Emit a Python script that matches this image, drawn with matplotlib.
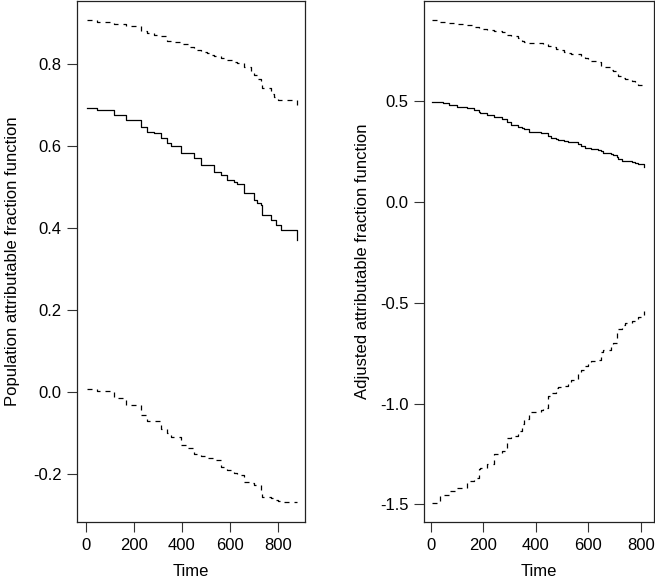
import matplotlib
matplotlib.use("Agg")
import matplotlib.pyplot as plt

plt.rcParams['font.family'] = ['Liberation Sans', 'DejaVu Sans']

# Left panel: population attributable fraction function (step functions)
time_l = [4, 48, 118, 170, 229, 257, 283, 313, 340, 354, 396, 425, 451, 479, 507, 521,
          533, 563, 590, 618, 632, 661, 688, 701, 715, 729, 736, 771, 785, 792, 800,
          813, 826, 882]
paf_est = [0.693, 0.689, 0.675, 0.663, 0.648, 0.635, 0.632, 0.620, 0.607, 0.600, 0.583, 0.583,
           0.570, 0.554, 0.554, 0.554, 0.537, 0.530, 0.517, 0.512, 0.509, 0.485, 0.485,
           0.468, 0.462, 0.456, 0.432, 0.420, 0.420, 0.407, 0.407, 0.395, 0.395, 0.371]
paf_upper = [0.907, 0.903, 0.897, 0.893, 0.880, 0.876, 0.871, 0.868, 0.857, 0.853, 0.849, 0.842,
             0.834, 0.830, 0.826, 0.823, 0.820, 0.815, 0.810, 0.806, 0.804, 0.793, 0.780,
             0.773, 0.765, 0.760, 0.741, 0.728, 0.720, 0.720, 0.712, 0.712, 0.712, 0.688]
paf_lower = [0.007, 0.002, -0.015, -0.032, -0.056, -0.070, -0.070, -0.089, -0.100, -0.109,
             -0.129, -0.135, -0.150, -0.155, -0.160, -0.160, -0.165, -0.182, -0.190,
             -0.197, -0.202, -0.219, -0.222, -0.227, -0.227, -0.240, -0.255, -0.258, -0.263,
             -0.263, -0.265, -0.268, -0.268, -0.268]

# Right panel: adjusted attributable fraction function
time_r = [3, 35, 47, 67, 99, 137, 144, 163, 182, 188, 214, 240, 272, 291, 304, 330, 349,
          355, 374, 381, 419, 426, 445, 458, 477, 483, 509, 522, 535, 560, 573, 586,
          599, 612, 637, 650, 657, 688, 695, 708, 714, 727, 740, 765, 778, 791, 813]
aaf_est = [0.497, 0.493, 0.489, 0.481, 0.472, 0.466, 0.464, 0.455, 0.446, 0.439, 0.430,
           0.419, 0.409, 0.395, 0.381, 0.372, 0.365, 0.360, 0.345, 0.345, 0.343, 0.340,
           0.325, 0.318, 0.310, 0.307, 0.303, 0.299, 0.295, 0.287, 0.278, 0.269, 0.265,
           0.262, 0.257, 0.250, 0.241, 0.236, 0.233, 0.220, 0.211, 0.205, 0.203, 0.200,
           0.194, 0.188, 0.175]
aaf_upper = [0.901, 0.892, 0.890, 0.888, 0.882, 0.876, 0.876, 0.868, 0.858, 0.855, 0.851,
             0.846, 0.840, 0.828, 0.822, 0.815, 0.800, 0.795, 0.790, 0.790, 0.789, 0.782,
             0.772, 0.769, 0.760, 0.755, 0.744, 0.740, 0.735, 0.731, 0.722, 0.712, 0.703,
             0.700, 0.695, 0.670, 0.667, 0.653, 0.650, 0.635, 0.625, 0.612, 0.608, 0.600,
             0.590, 0.578, 0.563]
aaf_lower = [-1.492, -1.459, -1.455, -1.434, -1.417, -1.388, -1.385, -1.368, -1.327, -1.320,
             -1.302, -1.252, -1.236, -1.170, -1.160, -1.137, -1.100, -1.079, -1.050, -1.043,
             -1.033, -1.020, -0.964, -0.950, -0.922, -0.918, -0.914, -0.895, -0.881, -0.850,
             -0.832, -0.815, -0.800, -0.790, -0.782, -0.745, -0.733, -0.716, -0.700, -0.642,
             -0.630, -0.612, -0.600, -0.590, -0.584, -0.570, -0.543]

x_ticks = [0, 200, 400, 600, 800]
yticks_l = [-0.2, 0.0, 0.2, 0.4, 0.6, 0.8]
yticks_r = [-1.5, -1.0, -0.5, 0.0, 0.5]

W, H = 655, 582
fig = plt.figure(figsize=(W / 100, H / 100), dpi=100)

def px_axes(x0, x1, y0, y1):
    return fig.add_axes([x0 / W, 1 - y1 / H, (x1 - x0) / W, (y1 - y0) / H])

axL = px_axes(77.3, 305.3, 1, 522.3)
axR = px_axes(424.3, 654, 1, 522.3)

dash = (0, (4, 4))
lw = 0.9

axL.plot(time_l, paf_est, color='black', lw=lw, drawstyle='steps-post')
axL.plot(time_l, paf_upper, color='black', lw=lw, linestyle=dash, drawstyle='steps-post')
axL.plot(time_l, paf_lower, color='black', lw=lw, linestyle=dash, drawstyle='steps-post')

axR.plot(time_r, aaf_est, color='black', lw=lw, drawstyle='steps-post')
axR.plot(time_r, aaf_upper, color='black', lw=lw, linestyle=dash, drawstyle='steps-post')
axR.plot(time_r, aaf_lower, color='black', lw=lw, linestyle=dash, drawstyle='steps-post')

axL.set_xlim(-35.0, 915.0)
axL.set_ylim(-0.317, 0.954)
axR.set_xlim(-25.6, 850.8)
axR.set_ylim(-1.589, 0.996)

for ax, yt in ((axL, yticks_l), (axR, yticks_r)):
    ax.set_xticks(x_ticks)
    ax.set_xticklabels([str(v) for v in x_ticks])
    ax.set_yticks(yt)
    ax.set_yticklabels([f"{v:.1f}" for v in yt])
    ax.tick_params(axis='both', direction='out', length=7.2, width=0.8,
                   labelsize=12, color='#333333', pad=4)
    for s in ax.spines.values():
        s.set_linewidth(0.9)
        s.set_color('#222222')
    ax.set_xlabel("Time", fontsize=12)
    ax.xaxis.set_label_coords(0.5, -0.080)

axL.set_ylabel("Population attributable fraction function", fontsize=12)
axL.yaxis.set_label_coords(-0.251, 0.5)
axR.set_ylabel("Adjusted attributable fraction function", fontsize=12)
axR.yaxis.set_label_coords(-0.236, 0.5)

fig.savefig("out.png", dpi=100)
